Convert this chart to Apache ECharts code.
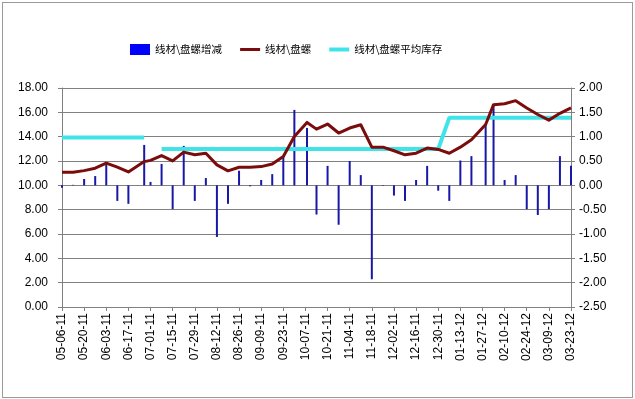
<!DOCTYPE html>
<html>
<head>
<meta charset="utf-8">
<script src="https://cdn.jsdelivr.net/npm/echarts@6/dist/echarts.min.js"></script>
<style>
html,body{margin:0;padding:0;background:#ffffff;}
#wrap{position:relative;width:635px;height:399px;overflow:hidden;background:#ffffff;}
#chart{position:absolute;left:0;top:0;width:635px;height:399px;}
#frame{position:absolute;left:2px;top:2px;width:629px;height:394px;border:1px solid #9a9a9a;pointer-events:none;}
</style>
</head>
<body>
<div id="wrap"><div id="chart"></div><div id="frame"></div></div>
<script>
// Observation dates (MM-DD-YY)
var dates = ['05-06-11','05-13-11','05-20-11','05-27-11','06-03-11','06-10-11','06-17-11','06-27-11','07-01-11',
  '07-08-11','07-15-11','07-22-11','07-29-11','08-05-11','08-12-11','08-19-11','08-26-11','09-02-11','09-09-11',
  '09-16-11','09-23-11','09-30-11','10-08-11','10-14-11','10-21-11','10-28-11','11-04-11','11-11-11','11-18-11',
  '11-25-11','12-02-11','12-09-11','12-16-11','12-23-11','12-30-11','01-06-12','01-13-12','01-20-12','01-29-12',
  '02-03-12','02-10-12','02-17-12','02-24-12','03-02-12','03-09-12','03-16-12','03-23-12'];
// 线材\盘螺增减 (right axis)
var changeValues = [-0.05,0.01,0.13,0.19,0.45,-0.32,-0.38,0.83,0.07,0.44,-0.49,0.81,-0.32,0.15,-1.06,-0.38,0.30,-0.02,
  0.11,0.23,0.60,1.55,1.18,-0.60,0.40,-0.81,0.50,0.21,-1.93,-0.01,-0.21,-0.32,0.11,0.40,-0.11,-0.32,0.51,0.60,1.27,
  1.63,0.11,0.21,-0.49,-0.61,-0.49,0.60,0.40];
// 线材\盘螺 (left axis)
var inventoryValues = [11.08,11.08,11.21,11.41,11.82,11.49,11.10,11.95,12.05,12.45,12.01,12.73,12.51,12.64,11.68,11.19,
  11.49,11.49,11.54,11.76,12.37,14.02,15.17,14.62,15.04,14.30,14.71,14.98,13.14,13.14,12.84,12.51,12.64,13.06,12.95,
  12.64,13.14,13.74,15.00,16.63,16.71,16.96,16.36,15.82,15.36,15.92,16.36];
// 线材\盘螺平均库存 (left axis)
var averageValues = [13.93,13.93,13.93,13.93,13.93,13.93,13.93,13.93,null,
  12.98,12.98,12.98,12.98,12.98,12.98,12.98,12.98,12.98,12.98,12.98,12.98,12.98,12.98,12.98,12.98,12.98,12.98,12.98,
  12.98,12.98,12.98,12.98,12.98,12.98,12.98,
  15.55,15.55,15.55,15.55,15.55,15.55,15.55,15.55,15.55,15.55,15.55,15.55];
// x tick labels (every 14 days)
var tickLabels = ['05-06-11','05-20-11','06-03-11','06-17-11','07-01-11','07-15-11','07-29-11','08-12-11','08-26-11',
  '09-09-11','09-23-11','10-07-11','10-21-11','11-04-11','11-18-11','12-02-11','12-16-11','12-30-11','01-13-12',
  '01-27-12','02-10-12','02-24-12','03-09-12','03-23-12'];
var seriesNames = ['线材\\盘螺增减','线材\\盘螺','线材\\盘螺平均库存'];

function toDay(s){
  var p = s.split('-');
  var t = Date.UTC(2000 + parseInt(p[2],10), parseInt(p[0],10)-1, parseInt(p[1],10));
  return Math.round((t - Date.UTC(2011,4,6)) / 86400000);
}
var dayX = dates.map(toDay);
var lastDay = toDay(tickLabels[tickLabels.length-1]);
function pairs(arr){ return arr.map(function(v,i){ return [dayX[i], v === null ? '-' : v]; }); }

var chart = echarts.init(document.getElementById('chart'), null, {renderer:'canvas'});
var gray = '#808080';
var fontFam = '"Liberation Sans", Arial, sans-serif';
var redC = '#7a0c0c', cyanC = '#40e4e8';
chart.setOption({
  animation:false,
  backgroundColor:'transparent',
  legend:{
    left:125, top:39, itemWidth:20, itemHeight:11, itemGap:18, symbolKeepAspect:true,
    textStyle:{fontSize:10.5, color:'#000', fontFamily:'"Noto Sans CJK SC", sans-serif'},
    data:[
      {name:seriesNames[0], icon:'rect', itemStyle:{color:'#0000ff'}},
      {name:seriesNames[1], icon:'path://M0,0H20V3H0Z', itemStyle:{color:redC}},
      {name:seriesNames[2], icon:'path://M0,0H20V4H0Z', itemStyle:{color:cyanC}}
    ]
  },
  grid:{left:62, right:64, top:88, bottom:92},
  xAxis:{
    type:'value', min:0, max:lastDay, interval:14,
    axisLine:{show:true, lineStyle:{color:gray, width:1}},
    axisTick:{show:true, length:4, lineStyle:{color:gray}},
    splitLine:{show:false},
    axisLabel:{rotate:90, margin:6, fontSize:12, color:'#000', fontFamily:fontFam,
      formatter:function(v){ return tickLabels[Math.round(v/14)]; }}
  },
  yAxis:[
    {type:'value', min:0, max:18, interval:2, position:'left',
      axisLine:{show:true, lineStyle:{color:gray}},
      axisTick:{show:true, length:4, lineStyle:{color:gray}},
      splitLine:{show:true, lineStyle:{color:gray, width:1}},
      axisLabel:{fontSize:12, color:'#000', margin:14, fontFamily:fontFam,
        formatter:function(v){ return v.toFixed(2); }}},
    {type:'value', min:-2.5, max:2.0, interval:0.5, position:'right',
      axisLine:{show:true, lineStyle:{color:gray}},
      axisTick:{show:true, length:4, lineStyle:{color:gray}},
      splitLine:{show:false},
      axisLabel:{fontSize:12, color:'#000', margin:8, fontFamily:fontFam,
        formatter:function(v){ return v.toFixed(2); }}}
  ],
  series:[
    {name:seriesNames[0], type:'bar', yAxisIndex:1, barWidth:2,
      itemStyle:{color:'#1818a8'}, data:pairs(changeValues)},
    {name:seriesNames[2], type:'line', yAxisIndex:0, symbol:'none', connectNulls:false,
      lineStyle:{color:cyanC, width:4}, itemStyle:{color:cyanC}, data:pairs(averageValues)},
    {name:seriesNames[1], type:'line', yAxisIndex:0, symbol:'none',
      lineStyle:{color:redC, width:3, join:'round'}, itemStyle:{color:redC}, data:pairs(inventoryValues)}
  ]
});
</script>
</body>
</html>
